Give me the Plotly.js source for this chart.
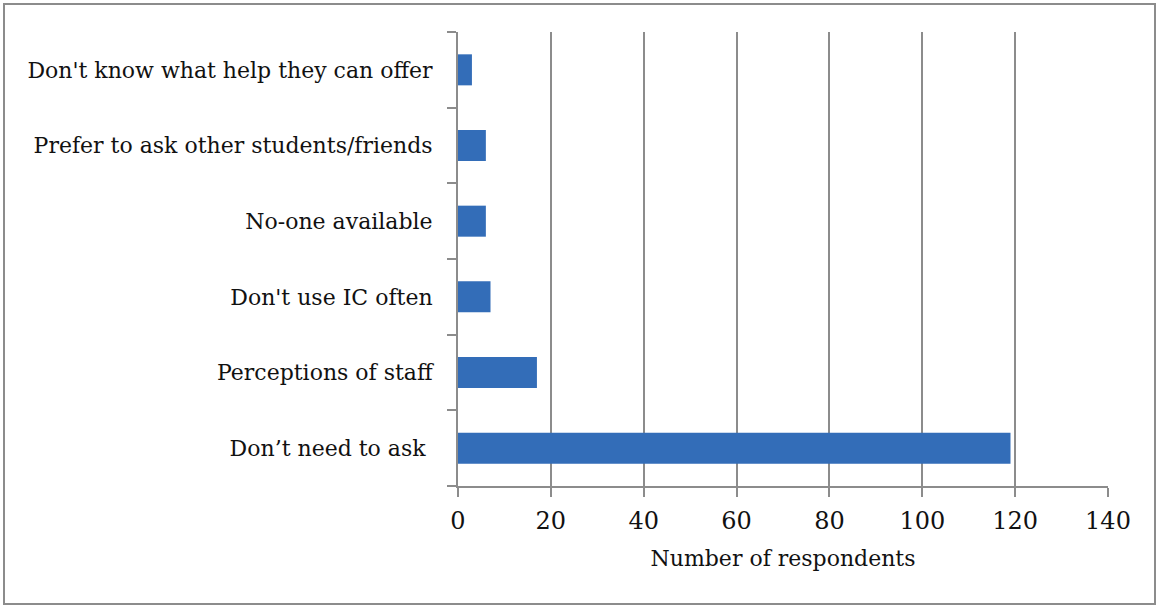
<!DOCTYPE html>
<html>
<head>
<meta charset="utf-8">
<script src="https://cdn.plot.ly/plotly-3.0.1.min.js"></script>
<style>
  html, body { margin: 0; padding: 0; background: #fff; }
  #frame { position: absolute; left: 3px; top: 3px; width: 1153px; height: 602px; border: 2px solid #8c8c8c; box-sizing: border-box; }
  #chart { position: absolute; left: 0; top: 0; width: 1160px; height: 608px; }
</style>
</head>
<body>
<div id="frame"></div>
<div id="chart"></div>
<script>
const categories = [
  "Don’t need to ask ",
  "Perceptions of staff",
  "Don't use IC often",
  "No-one available",
  "Prefer to ask other students/friends",
  "Don't know what help they can offer"
];
const respondents = [119, 17, 7, 6, 6, 3];
const xTicks = [0, 20, 40, 60, 80, 100, 120, 140];

const fontFam = "'DejaVu Serif', 'Liberation Serif', serif";

const trace = {
  type: 'bar',
  orientation: 'h',
  y: categories,
  x: respondents,
  marker: { color: '#336db8', line: { width: 0 } },
  hoverinfo: 'x+y'
};

const layout = {
  width: 1160,
  height: 608,
  margin: { l: 458, r: 52, t: 32, b: 122, pad: 0 },
  paper_bgcolor: 'rgba(0,0,0,0)',
  plot_bgcolor: 'rgba(0,0,0,0)',
  showlegend: false,
  bargap: 0.59,
  font: { family: fontFam, size: 22, color: '#111' },
  xaxis: {
    range: [0, 140],
    tickvals: xTicks,
    ticktext: xTicks.map(String),
    showgrid: true,
    gridcolor: '#8c8c8c',
    gridwidth: 2,
    zeroline: false,
    showline: true,
    linecolor: '#8c8c8c',
    linewidth: 2,
    ticks: 'outside',
    ticklen: 9,
    tickwidth: 2,
    tickcolor: '#8c8c8c',
    ticklabelstandoff: 3,
    tickfont: { family: fontFam, size: 24, color: '#111' },
    title: { text: 'Number of respondents', font: { family: fontFam, size: 22, color: '#111' }, standoff: 17 },
    fixedrange: true
  },
  yaxis: {
    type: 'category',
    categoryorder: 'array',
    categoryarray: categories,
    showgrid: false,
    zeroline: false,
    showline: true,
    linecolor: '#8c8c8c',
    linewidth: 2,
    ticks: 'outside',
    tickson: 'boundaries',
    ticklen: 9,
    tickwidth: 2,
    tickcolor: '#8c8c8c',
    ticklabelstandoff: 19,
    tickfont: { family: fontFam, size: 22, color: '#111' },
    fixedrange: true
  }
};

Plotly.newPlot('chart', [trace], layout, { displayModeBar: false, staticPlot: true });
</script>
</body>
</html>
